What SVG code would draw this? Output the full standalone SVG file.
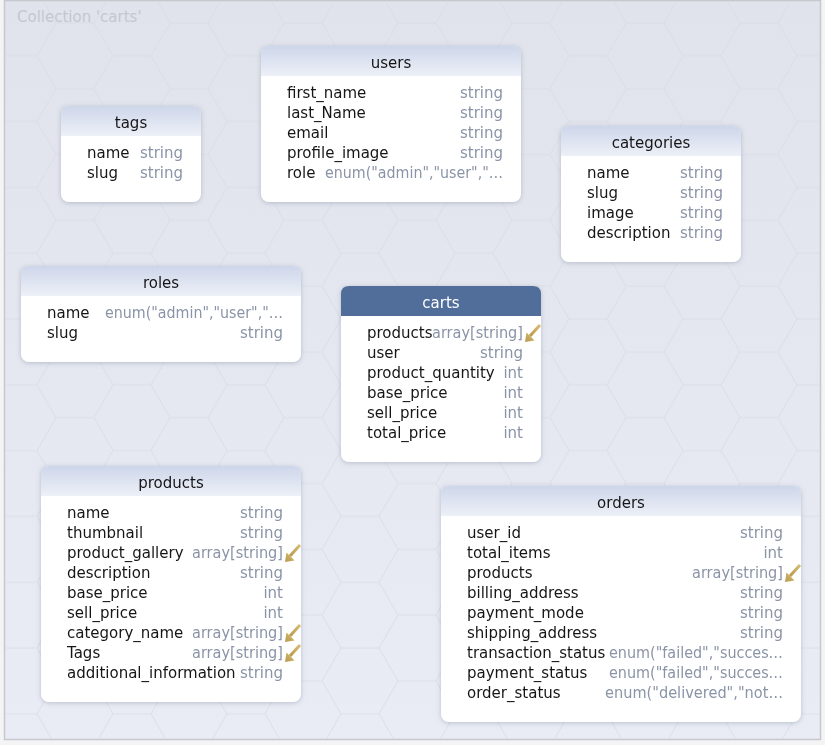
<svg xmlns="http://www.w3.org/2000/svg" xmlns:xlink="http://www.w3.org/1999/xlink" width="825" height="745" viewBox="0 0 825 745">
<style>
text{font-family:"DejaVu Sans",Verdana,sans-serif;font-size:15px}
.n{fill:#161616}
.t{fill:#8a94a7;text-anchor:end}
.h{fill:#161616;text-anchor:middle}
.hw{fill:#ffffff;text-anchor:middle}
.body{fill:#ffffff}
.hd{fill:url(#hg)}
.node{filter:url(#sh)}
.cap{fill:#c4c7d0;font-size:15px}
</style>
<defs>
<linearGradient id="bg" x1="0" y1="0" x2="0" y2="1">
<stop offset="0" stop-color="#e0e3eb"/>
<stop offset="1" stop-color="#e9ecf5"/>
</linearGradient>
<linearGradient id="hg" x1="0" y1="0" x2="0" y2="1">
<stop offset="0" stop-color="#cdd6ea"/>
<stop offset="1" stop-color="#edf0f7"/>
</linearGradient>
<linearGradient id="ag" x1="1" y1="0" x2="0" y2="1">
<stop offset="0" stop-color="#d8bd72"/>
<stop offset="1" stop-color="#b8994c"/>
</linearGradient>
<pattern id="hex" width="114" height="65.8" patternUnits="userSpaceOnUse" x="-20" y="-10">
<path d="M0,32.9 L19,0 L57,0 L76,32.9 L57,65.8 L19,65.8 Z M76,32.9 L114,32.9" fill="none" stroke="#d9dce5" stroke-width="1"/>
</pattern>
<filter id="sh" x="-10%" y="-10%" width="120%" height="120%">
<feDropShadow dx="0" dy="1" stdDeviation="2.5" flood-color="#7f889b" flood-opacity="0.45"/>
</filter>
<g id="arr">
<line x1="7" y1="-8" x2="-3" y2="3" stroke="url(#ag)" stroke-width="3"/>
<polygon points="-8,9 -6.5,-0.5 1.5,7.5" fill="url(#ag)"/>
</g>
</defs>

<rect x="0" y="0" width="825" height="745" fill="#f4f4f6"/>
<rect x="4.5" y="0.5" width="816" height="739" fill="url(#bg)" stroke="#c6c8ce" stroke-width="1.5"/>
<rect x="5" y="1" width="815" height="738" fill="url(#hex)" opacity="0.8"/>
<text class="cap" x="17" y="22">Collection 'carts'</text>

<g id="tags" class="node">
<rect class="body" x="61" y="106" width="140" height="96" rx="8"/>
<path class="hd" d="M61,136 V114 Q61,106 69,106 H193 Q201,106 201,114 V136 Z"/>
<text class="h" x="131" y="128">tags</text>
<text class="n" x="87" y="158">name</text><text class="t" x="183" y="158">string</text>
<text class="n" x="87" y="178">slug</text><text class="t" x="183" y="178">string</text>
</g>

<g id="users" class="node">
<rect class="body" x="261" y="46" width="260" height="156" rx="8"/>
<path class="hd" d="M261,76 V54 Q261,46 269,46 H513 Q521,46 521,54 V76 Z"/>
<text class="h" x="391" y="68">users</text>
<text class="n" x="287" y="98">first_name</text><text class="t" x="503" y="98">string</text>
<text class="n" x="287" y="118">last_Name</text><text class="t" x="503" y="118">string</text>
<text class="n" x="287" y="138">email</text><text class="t" x="503" y="138">string</text>
<text class="n" x="287" y="158">profile_image</text><text class="t" x="503" y="158">string</text>
<text class="n" x="287" y="178">role</text><text class="t" x="503" y="178" textLength="178" lengthAdjust="spacingAndGlyphs">enum("admin","user","…</text>
</g>

<g id="categories" class="node">
<rect class="body" x="561" y="126" width="180" height="136" rx="8"/>
<path class="hd" d="M561,156 V134 Q561,126 569,126 H733 Q741,126 741,134 V156 Z"/>
<text class="h" x="651" y="148">categories</text>
<text class="n" x="587" y="178">name</text><text class="t" x="723" y="178">string</text>
<text class="n" x="587" y="198">slug</text><text class="t" x="723" y="198">string</text>
<text class="n" x="587" y="218">image</text><text class="t" x="723" y="218">string</text>
<text class="n" x="587" y="238">description</text><text class="t" x="723" y="238">string</text>
</g>

<g id="roles" class="node">
<rect class="body" x="21" y="266" width="280" height="96" rx="8"/>
<path class="hd" d="M21,296 V274 Q21,266 29,266 H293 Q301,266 301,274 V296 Z"/>
<text class="h" x="161" y="288">roles</text>
<text class="n" x="47" y="318">name</text><text class="t" x="283" y="318" textLength="178" lengthAdjust="spacingAndGlyphs">enum("admin","user","…</text>
<text class="n" x="47" y="338">slug</text><text class="t" x="283" y="338">string</text>
</g>

<g id="carts" class="node">
<rect class="body" x="341" y="286" width="200" height="176" rx="8"/>
<path d="M341,316 V294 Q341,286 349,286 H533 Q541,286 541,294 V316 Z" fill="#516d9a"/>
<text class="hw" x="441" y="308">carts</text>
<text class="n" x="367" y="338">products</text><text class="t" x="523" y="338" textLength="91" lengthAdjust="spacingAndGlyphs">array[string]</text>
<text class="n" x="367" y="358">user</text><text class="t" x="523" y="358">string</text>
<text class="n" x="367" y="378">product_quantity</text><text class="t" x="523" y="378">int</text>
<text class="n" x="367" y="398">base_price</text><text class="t" x="523" y="398">int</text>
<text class="n" x="367" y="418">sell_price</text><text class="t" x="523" y="418">int</text>
<text class="n" x="367" y="438">total_price</text><text class="t" x="523" y="438">int</text>
<use xlink:href="#arr" href="#arr" x="533" y="333"/>
</g>

<g id="products" class="node">
<rect class="body" x="41" y="466" width="260" height="236" rx="8"/>
<path class="hd" d="M41,496 V474 Q41,466 49,466 H293 Q301,466 301,474 V496 Z"/>
<text class="h" x="171" y="488">products</text>
<text class="n" x="67" y="518">name</text><text class="t" x="283" y="518">string</text>
<text class="n" x="67" y="538">thumbnail</text><text class="t" x="283" y="538">string</text>
<text class="n" x="67" y="558">product_gallery</text><text class="t" x="283" y="558" textLength="91" lengthAdjust="spacingAndGlyphs">array[string]</text>
<text class="n" x="67" y="578">description</text><text class="t" x="283" y="578">string</text>
<text class="n" x="67" y="598">base_price</text><text class="t" x="283" y="598">int</text>
<text class="n" x="67" y="618">sell_price</text><text class="t" x="283" y="618">int</text>
<text class="n" x="67" y="638">category_name</text><text class="t" x="283" y="638" textLength="91" lengthAdjust="spacingAndGlyphs">array[string]</text>
<text class="n" x="67" y="658">Tags</text><text class="t" x="283" y="658" textLength="91" lengthAdjust="spacingAndGlyphs">array[string]</text>
<text class="n" x="67" y="678">additional_information</text><text class="t" x="283" y="678">string</text>
<use xlink:href="#arr" href="#arr" x="293" y="553"/>
<use xlink:href="#arr" href="#arr" x="293" y="633"/>
<use xlink:href="#arr" href="#arr" x="293" y="653"/>
</g>

<g id="orders" class="node">
<rect class="body" x="441" y="486" width="360" height="236" rx="8"/>
<path class="hd" d="M441,516 V494 Q441,486 449,486 H793 Q801,486 801,494 V516 Z"/>
<text class="h" x="621" y="508">orders</text>
<text class="n" x="467" y="538">user_id</text><text class="t" x="783" y="538">string</text>
<text class="n" x="467" y="558">total_items</text><text class="t" x="783" y="558">int</text>
<text class="n" x="467" y="578">products</text><text class="t" x="783" y="578" textLength="91" lengthAdjust="spacingAndGlyphs">array[string]</text>
<text class="n" x="467" y="598">billing_address</text><text class="t" x="783" y="598">string</text>
<text class="n" x="467" y="618">payment_mode</text><text class="t" x="783" y="618">string</text>
<text class="n" x="467" y="638">shipping_address</text><text class="t" x="783" y="638">string</text>
<text class="n" x="467" y="658">transaction_status</text><text class="t" x="783" y="658" textLength="174" lengthAdjust="spacingAndGlyphs">enum("failed","succes…</text>
<text class="n" x="467" y="678">payment_status</text><text class="t" x="783" y="678" textLength="174" lengthAdjust="spacingAndGlyphs">enum("failed","succes…</text>
<text class="n" x="467" y="698">order_status</text><text class="t" x="783" y="698" textLength="178" lengthAdjust="spacingAndGlyphs">enum("delivered","not…</text>
<use xlink:href="#arr" href="#arr" x="793" y="573"/>
</g>

<g id="connectors"></g>
</svg>
